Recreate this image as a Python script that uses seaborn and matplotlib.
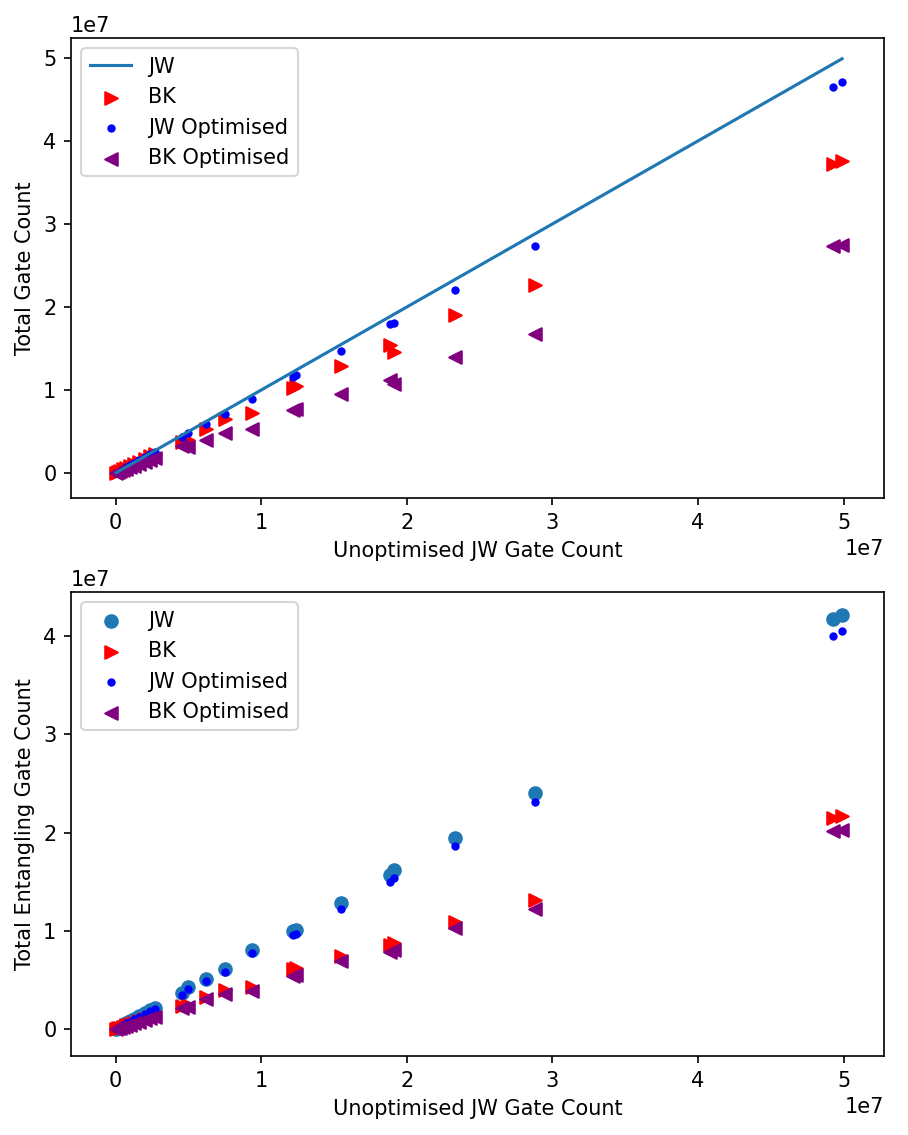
import numpy as np
import matplotlib
matplotlib.use("Agg")
import matplotlib.pyplot as plt
import seaborn as sns

# Values in millions of gates
unopt_jw = [0.05, 0.15, 0.3, 0.5, 0.75, 1.0, 1.3, 1.6, 2.0, 2.4, 2.7,
            4.55, 5.0, 6.2, 7.5, 9.4, 12.2, 12.4, 15.5, 18.85, 19.1, 23.3, 28.8, 49.3, 49.9]

# Total gate count (top)
total_jw = unopt_jw
total_bk = [0.06, 0.15, 0.28, 0.45, 0.66, 0.87, 1.12, 1.37, 1.7, 2.03, 2.28,
            3.8, 4.0, 5.26, 6.5, 7.27, 10.3, 10.5, 12.9, 15.4, 14.6, 19.0, 22.7, 37.2, 37.6]
total_jw_opt = [0.05, 0.14, 0.28, 0.47, 0.71, 0.95, 1.23, 1.52, 1.9, 2.28, 2.56,
                4.37, 4.78, 5.87, 7.07, 8.9, 11.6, 11.8, 14.7, 17.95, 18.1, 22.1, 27.3, 46.5, 47.1]
total_bk_opt = [0.04, 0.1, 0.2, 0.34, 0.51, 0.68, 0.88, 1.08, 1.36, 1.63, 1.84,
                3.25, 3.13, 3.98, 4.86, 5.26, 7.6, 7.7, 9.5, 11.2, 10.7, 14.0, 16.7, 27.3, 27.5]

# Total entangling gate count (bottom)
ent_jw = [0.04, 0.12, 0.24, 0.4, 0.6, 0.8, 1.04, 1.28, 1.6, 1.92, 2.16,
          3.63, 4.24, 5.09, 6.07, 8.04, 10.0, 10.1, 12.8, 15.7, 16.2, 19.4, 24.05, 41.7, 42.2]
ent_bk = [0.03, 0.08, 0.15, 0.25, 0.37, 0.49, 0.64, 0.78, 0.98, 1.17, 1.32,
          2.3, 2.4, 3.29, 3.97, 4.3, 6.1, 6.18, 7.4, 8.6, 8.8, 10.9, 13.1, 21.5, 21.7]
ent_jw_opt = [0.04, 0.11, 0.23, 0.38, 0.57, 0.76, 0.99, 1.22, 1.53, 1.84, 2.07,
              3.46, 4.04, 4.89, 5.8, 7.7, 9.6, 9.7, 12.2, 15.0, 15.4, 18.6, 23.1, 40.0, 40.5]
ent_bk_opt = [0.03, 0.07, 0.14, 0.23, 0.34, 0.45, 0.58, 0.72, 0.9, 1.08, 1.21,
              2.1, 2.2, 3.02, 3.56, 3.9, 5.4, 5.5, 6.9, 7.8, 8.0, 10.25, 12.2, 20.2, 20.3]

M = 1e6
x = np.array(unopt_jw) * M

plt.rcParams['font.family'] = ['DejaVu Sans']
fig = plt.figure(figsize=(908 / 150, 1135 / 150), dpi=150)
ax1 = fig.add_axes([71 / 908, 1 - 498 / 1135, 813 / 908, 460 / 1135])
ax2 = fig.add_axes([71 / 908, 1 - 1056 / 1135, 813 / 908, 464 / 1135])

sc_kw = dict(edgecolor='face', linewidth=1.0)

sns.lineplot(x=x, y=np.array(total_jw) * M, ax=ax1, label='JW', color='C0', linewidth=1.5)
sns.scatterplot(x=x, y=np.array(total_bk) * M, ax=ax1, marker='>', color='red', s=36, label='BK', **sc_kw)
sns.scatterplot(x=x, y=np.array(total_jw_opt) * M, ax=ax1, marker='.', color='blue', s=36, label='JW Optimised', **sc_kw)
sns.scatterplot(x=x, y=np.array(total_bk_opt) * M, ax=ax1, marker='<', color='purple', s=36, label='BK Optimised', **sc_kw)

sns.scatterplot(x=x, y=np.array(ent_jw) * M, ax=ax2, marker='o', color='C0', s=36, label='JW', **sc_kw)
sns.scatterplot(x=x, y=np.array(ent_bk) * M, ax=ax2, marker='>', color='red', s=36, label='BK', **sc_kw)
sns.scatterplot(x=x, y=np.array(ent_jw_opt) * M, ax=ax2, marker='.', color='blue', s=36, label='JW Optimised', **sc_kw)
sns.scatterplot(x=x, y=np.array(ent_bk_opt) * M, ax=ax2, marker='<', color='purple', s=36, label='BK Optimised', **sc_kw)

for ax in (ax1, ax2):
    ax.set_xlim(-0.306e7, 5.278e7)
    ax.set_xlabel('Unoptimised JW Gate Count')
    ax.legend(loc='upper left')

ax1.set_ylim(-0.30e7, 5.24e7)
ax2.set_ylim(-0.275e7, 4.45e7)
ax1.set_ylabel('Total Gate Count')
ax2.set_ylabel('Total Entangling Gate Count')

fig.savefig('out.png', dpi=150)
